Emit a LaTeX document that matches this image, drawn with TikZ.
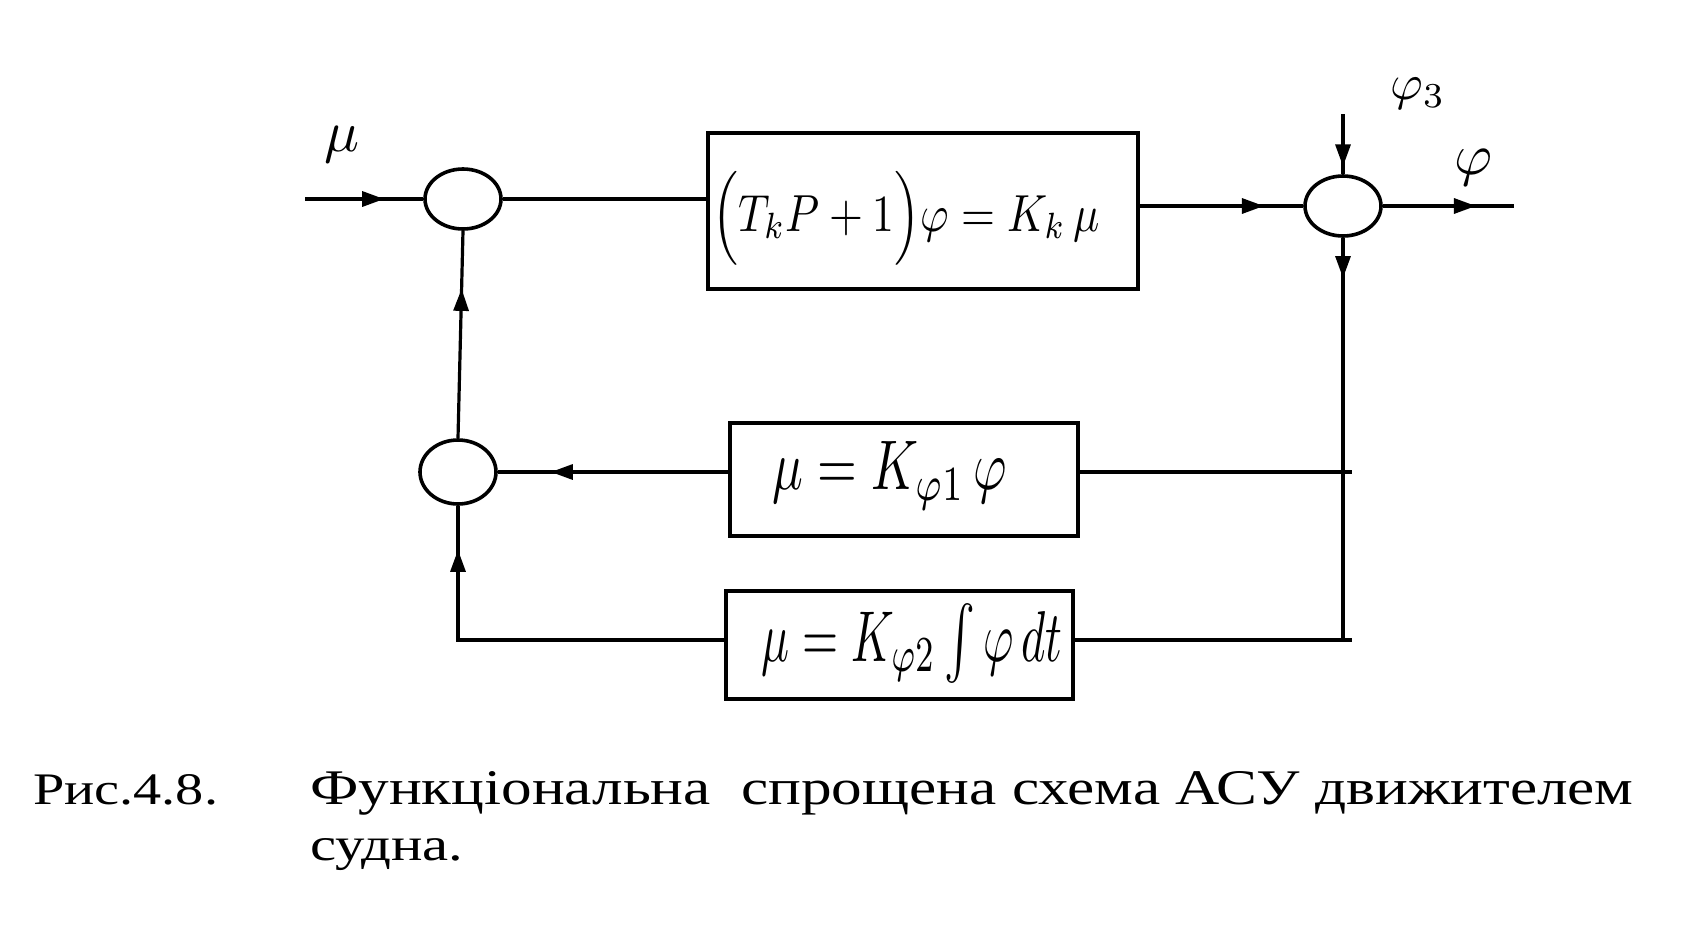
\documentclass[tikz,border=0pt]{standalone}
\usepackage{amsmath}
\usepackage{graphicx}
\usepackage{fontspec}
\newfontfamily\capfont{Liberation Serif}
\usetikzlibrary{arrows.meta,decorations.markings,shapes.geometric}
\begin{document}
\begin{tikzpicture}[x=1pt,y=-1pt]
\tikzset{
 ln/.style={line width=3.2pt},
 sumc/.style={ellipse, draw, line width=3.6pt, minimum width=76pt, minimum height=60pt, inner sep=0pt},
 blk/.style={draw, line width=3.2pt, inner sep=0pt},
 arr/.style={postaction={decorate}, decoration={markings, mark=at position #1 with {\arrow{Triangle[length=22pt,width=15pt]}}}},
 lbl/.style={inner sep=0pt},
}
\fill[white] (0,0) rectangle (1708,940);
\useasboundingbox (0,0) rectangle (1708,940);

% summing junctions
\node[sumc] (c1) at (463,199) {};
\node[sumc] (c2) at (1343,206) {};
\node[sumc, minimum height=64pt] (c3) at (458,472) {};

% blocks
\node[blk, minimum width=430pt, minimum height=156pt] (b1) at (923,211) {};
\node[blk, minimum width=348pt, minimum height=113pt] (b2) at (904,479.5) {};
\node[blk, minimum width=347pt, minimum height=108pt] (b3) at (899.5,645) {};

% formulas
\node[lbl] (f1) at (906,218) {\resizebox{387pt}{60pt}{$\Bigl(T_k P+1\Bigr)\varphi = K_k\,\mu$}};
\node[lbl] (f2) at (890,476) {\resizebox{234pt}{48pt}{$\mu = K_{\varphi 1}\,\varphi$}};
\node[lbl] (f3) at (912,643) {\resizebox{300pt}{58pt}{$\mu = K_{\varphi 2}\int\varphi\,dt$}};

% free ends
\coordinate (in) at (305,199);
\coordinate (out) at (1514,206);
\coordinate (top) at (1343,114);
\coordinate (rb) at (1343,640);
\coordinate (rx) at (1352,640);

% connectors
\draw[ln, arr=0.67] (in) -- (c1.west);
\draw[ln] (c1.east) -- (c1.east -| b1.west);
\draw[ln, arr=0.76] (b1.east |- c2.west) -- (c2.west);
\draw[ln, arr=0.71] (c2.east) -- (out);
\draw[ln, arr=0.87] (top) -- (c2.north);
\draw[ln, arr=0.1] (c2.south) -- (rb);
\draw[ln] (b2.east |- c3.east) -- (c3.east -| rx);
\draw[ln, arr=0.77] (b2.west |- c3.east) -- (c3.east);
\draw[ln] (b3.east |- rb) -- (rx);
\draw[ln, arr=0.89] (b3.west |- rb) -| (c3.south);
\draw[ln, arr=0.72] (c3.north) -- (c1.south);

% signal labels
\node[lbl] (lmu) at (342,145) {\resizebox{35pt}{!}{$\mu$}};
\node[lbl] (lphi3) at (1418,94) {\scalebox{5}{$\varphi_3$}};
\node[lbl] (lphi) at (1473,168) {\resizebox{38pt}{!}{$\varphi$}};

% caption
\node[lbl, anchor=base west] (cap1) at (33,804) {\capfont\resizebox{185pt}{30pt}{Рис.4.8.}};
\node[lbl, anchor=base west] (cap2) at (310,804) {\capfont\resizebox{1323pt}{33pt}{Функціональна\ \ спрощена схема АСУ движителем}};
\node[lbl, anchor=base west] (cap3) at (310,860) {\capfont\resizebox{153pt}{22pt}{судна.}};
\end{tikzpicture}
\end{document}
